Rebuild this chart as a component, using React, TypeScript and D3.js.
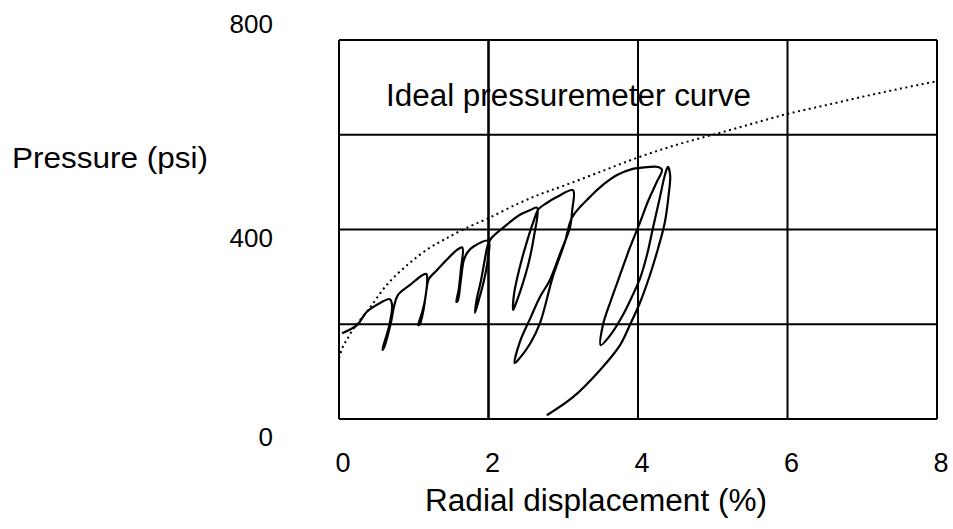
import React from 'react';
import * as d3 from 'd3';

// ---- data ----
const xTicks = [0, 2, 4, 6, 8];
const yTicks = [0, 400, 800];
const gridX = [0, 2, 4, 6, 8];
const gridY = [0, 200, 400, 600, 800];

const idealDisp = [0, 0.05, 0.1, 0.2, 0.4, 0.65, 0.95, 1.2, 1.4, 1.66, 2.0, 2.4, 2.7, 3.0, 3.5, 4.0, 4.5, 5.0, 5.5, 6.0, 6.5, 7.0, 7.5, 8.0];
const idealPress = [128, 152, 166, 192, 232, 285, 330, 360, 378, 400, 424, 455, 475, 492, 522, 552, 578, 600, 622, 644, 662, 680, 697, 713];

const measDisp = [
  0.04, 0.24, 0.37, 0.55, 0.68,
  0.71, 0.67, 0.58,
  0.60, 0.69, 0.74, 0.79,
  0.95, 1.12, 1.17,
  1.18, 1.15, 1.11, 1.06,
  1.08, 1.13, 1.17, 1.20,
  1.31, 1.44, 1.58, 1.65,
  1.63, 1.60, 1.57,
  1.59, 1.63, 1.67, 1.72, 1.80, 2.0,
  1.99, 1.94, 1.87, 1.82,
  1.84, 1.90, 1.95, 1.99, 2.03,
  2.19, 2.42, 2.56, 2.65,
  2.61, 2.53, 2.43, 2.36, 2.33,
  2.34, 2.41, 2.50, 2.60, 2.67,
  2.78, 2.92, 3.13,
  3.12, 3.09, 2.96, 2.82, 2.69, 2.56, 2.42, 2.35,
  2.42, 2.56, 2.69, 2.86, 3.02, 3.12,
  3.36, 3.53, 3.72, 3.93, 4.03, 4.27, 4.32,
  4.25, 4.13, 4.03, 3.89, 3.76, 3.63, 3.53, 3.50,
  3.63, 3.80, 3.93, 4.03, 4.12, 4.20, 4.29, 4.36, 4.40,
  4.43, 4.41, 4.36, 4.27, 4.16, 4.03, 3.89, 3.76, 3.49, 3.13, 2.78,
];
const measPress = [
  181, 198, 226, 245, 253,
  240, 196, 146,
  150, 200, 240, 262,
  283, 304, 306,
  296, 251, 224, 198,
  200, 230, 272, 295,
  314, 336, 357, 362,
  315, 272, 247,
  250, 293, 335, 352, 364, 376,
  336, 293, 251, 224,
  251, 293, 336, 367, 380,
  403, 431, 441, 446,
  387, 325, 272, 241, 230,
  262, 315, 367, 416, 443,
  456, 469, 483,
  441, 405, 350, 293, 258, 213, 163, 118,
  129, 160, 203, 300, 372, 426,
  469, 494, 515, 528, 530, 532, 526,
  500, 458, 416, 361, 304, 247, 198, 156,
  177, 220, 262, 298, 346, 403, 466, 515, 532,
  515, 473, 416, 361, 304, 247, 198, 156, 103, 46, 8,
];

const xTitle = 'Radial displacement (%)';
const yTitle = 'Pressure (psi)';
const curveLabel = 'Ideal pressuremeter curve';

export default function App() {
  const W = 953;
  const H = 529;
  const x = d3.scaleLinear().domain([0, 8]).range([339, 937]);
  const y = d3.scaleLinear().domain([0, 800]).range([419, 40]);
  const yLabel = d3.scaleLinear().domain([0, 400, 800]).range([446, 247, 33]);

  const ideal = idealDisp.map((d, i) => [d, idealPress[i]] as [number, number]);
  const meas = measDisp.map((d, i) => [d, measPress[i]] as [number, number]);

  const line = d3
    .line<[number, number]>()
    .x((d) => x(d[0]))
    .y((d) => y(d[1]))
    .curve(d3.curveCatmullRom.alpha(0.5));

  const font = '"Liberation Sans", Arial, Helvetica, sans-serif';

  return (
    <svg
      width={W}
      height={H}
      style={{ position: 'absolute', left: 0, top: 0, background: '#fff' }}
      fontFamily={font}
    >
      <rect x={0} y={0} width={W} height={H} fill="#fff" />
      {gridX.map((v) => (
        <line key={'gx' + v} x1={x(v)} x2={x(v)} y1={y(0)} y2={y(800)} stroke="#000" strokeWidth={v === 2 ? 2.6 : 2} />
      ))}
      {gridY.map((v) => (
        <line key={'gy' + v} x1={x(0)} x2={x(8)} y1={y(v)} y2={y(v)} stroke="#000" strokeWidth={2} />
      ))}
      <path d={line(ideal) || ''} fill="none" stroke="#000" strokeWidth={2} strokeDasharray="2,3.5" />
      <path d={line(meas) || ''} fill="none" stroke="#000" strokeWidth={2.2} strokeLinejoin="round" />
      {yTicks.map((v) => (
        <text key={'yt' + v} x={273} y={yLabel(v)} textAnchor="end" fontSize={26} fill="#000">
          {v}
        </text>
      ))}
      {xTicks.map((v) => (
        <text key={'xt' + v} x={x(v) + 4} y={472} textAnchor="middle" fontSize={27} fill="#000">
          {v}
        </text>
      ))}
      <text x={12} y={168} fontSize={30} textLength={196} lengthAdjust="spacingAndGlyphs" fill="#000">
        {yTitle}
      </text>
      <text x={425} y={511} fontSize={31} textLength={342} lengthAdjust="spacingAndGlyphs" fill="#000">
        {xTitle}
      </text>
      <text x={386} y={106} fontSize={31} textLength={365} lengthAdjust="spacingAndGlyphs" fill="#000">
        {curveLabel}
      </text>
    </svg>
  );
}
